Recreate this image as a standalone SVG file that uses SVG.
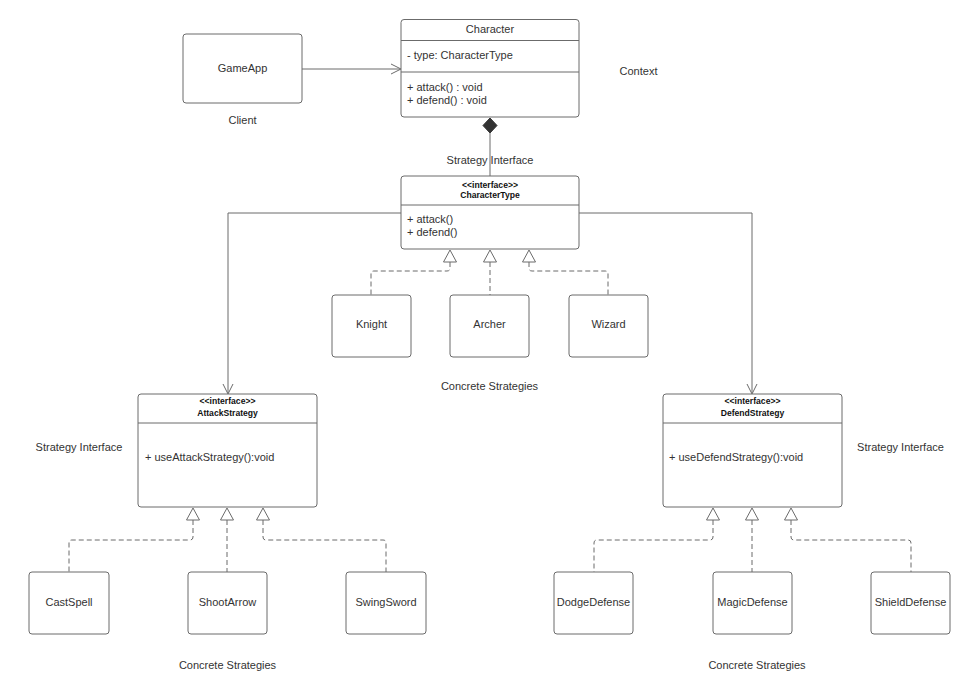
<svg xmlns="http://www.w3.org/2000/svg" width="980" height="700" viewBox="0 0 980 700">
<style>
.box{fill:#fff;stroke:#6b6b6b;stroke-width:1}
.ln{fill:none;stroke:#6b6b6b;stroke-width:1}
.dash{fill:none;stroke:#6b6b6b;stroke-width:1;stroke-dasharray:5 3}
.tri{fill:#fff;stroke:#6b6b6b;stroke-width:1}
text{font-family:"Liberation Sans",Arial,sans-serif;font-size:11px;fill:#333}
.c{text-anchor:middle}
.b{font-weight:bold;font-size:8.6px;fill:#111}
</style>
<rect width="980" height="700" fill="#fff"/>
<g id="connectors">
  <path class="ln" d="M302,69 H400"/>
  <path class="ln" d="M391,64 L401,69 L391,74"/>
  <path class="ln" d="M490,133 V176"/>
  <path d="M490,118 L497,125.5 L490,133 L483,125.5 Z" fill="#333" stroke="#333"/>
  <path class="ln" d="M401,213 H228 V393"/>
  <path class="ln" d="M223,384 L228,394 L233,384"/>
  <path class="ln" d="M579,213 H752 V393"/>
  <path class="ln" d="M747,384 L752,394 L757,384"/>
  <path class="dash" d="M450,262 V268 Q450,271 447,271 H374 Q371,271 371,274 V295"/>
  <path class="dash" d="M490,262 V295"/>
  <path class="dash" d="M529,262 V268 Q529,271 532,271 H605 Q608,271 608,274 V295"/>
  <path class="tri" d="M450,250 L456.5,262 L443.5,262 Z"/>
  <path class="tri" d="M490,250 L496.5,262 L483.5,262 Z"/>
  <path class="tri" d="M529,250 L535.5,262 L522.5,262 Z"/>
  <path class="dash" d="M193,520 V537 Q193,540 190,540 H72 Q69,540 69,543 V572"/>
  <path class="dash" d="M227,520 V572"/>
  <path class="dash" d="M263,520 V537 Q263,540 266,540 H383 Q386,540 386,543 V572"/>
  <path class="tri" d="M193,508 L199.5,520 L186.5,520 Z"/>
  <path class="tri" d="M227,508 L233.5,520 L220.5,520 Z"/>
  <path class="tri" d="M263,508 L269.5,520 L256.5,520 Z"/>
  <path class="dash" d="M713,520 V537 Q713,540 710,540 H597 Q594,540 594,543 V572"/>
  <path class="dash" d="M752,520 V572"/>
  <path class="dash" d="M791,520 V537 Q791,540 794,540 H908 Q911,540 911,543 V572"/>
  <path class="tri" d="M713,508 L719.5,520 L706.5,520 Z"/>
  <path class="tri" d="M752,508 L758.5,520 L745.5,520 Z"/>
  <path class="tri" d="M791,508 L797.5,520 L784.5,520 Z"/>
</g>
<g id="GameApp">
  <rect class="box" x="183" y="34" width="119" height="69" rx="3"/>
  <text class="c" x="242.5" y="72">GameApp</text>
</g>
<g id="Character">
  <rect class="box" x="401" y="19.5" width="178" height="97.5" rx="3"/>
  <path class="ln" d="M401,40.5 H579 M401,72 H579"/>
  <text class="c" x="490" y="33">Character</text>
  <text x="407" y="59">- type: CharacterType</text>
  <text x="407" y="91">+ attack() : void</text>
  <text x="407" y="104">+ defend() : void</text>
</g>
<g id="CharacterType">
  <rect class="box" x="401" y="176" width="178" height="73" rx="3"/>
  <path class="ln" d="M401,205 H579"/>
  <text class="c b" x="490" y="188">&lt;&lt;interface&gt;&gt;</text>
  <text class="c b" x="490" y="198">CharacterType</text>
  <text x="407" y="223">+ attack()</text>
  <text x="407" y="236">+ defend()</text>
</g>
<g id="Knight">
  <rect class="box" x="332" y="295" width="79" height="62" rx="3"/>
  <text class="c" x="371.5" y="328">Knight</text>
</g>
<g id="Archer">
  <rect class="box" x="450" y="295" width="79" height="62" rx="3"/>
  <text class="c" x="489.5" y="328">Archer</text>
</g>
<g id="Wizard">
  <rect class="box" x="569" y="295" width="79" height="62" rx="3"/>
  <text class="c" x="608.5" y="328">Wizard</text>
</g>
<g id="AttackStrategy">
  <rect class="box" x="138" y="394" width="179" height="113" rx="3"/>
  <path class="ln" d="M138,423 H317"/>
  <text class="c b" x="227.5" y="404">&lt;&lt;interface&gt;&gt;</text>
  <text class="c b" x="227.5" y="416">AttackStrategy</text>
  <text x="145" y="461">+ useAttackStrategy():void</text>
</g>
<g id="DefendStrategy">
  <rect class="box" x="663" y="394" width="179" height="113" rx="3"/>
  <path class="ln" d="M663,423 H842"/>
  <text class="c b" x="752.5" y="404">&lt;&lt;interface&gt;&gt;</text>
  <text class="c b" x="752.5" y="416">DefendStrategy</text>
  <text x="669" y="461">+ useDefendStrategy():void</text>
</g>
<g id="CastSpell">
  <rect class="box" x="29" y="572" width="80" height="62" rx="3"/>
  <text class="c" x="69" y="606">CastSpell</text>
</g>
<g id="ShootArrow">
  <rect class="box" x="188" y="572" width="79" height="62" rx="3"/>
  <text class="c" x="227.5" y="606">ShootArrow</text>
</g>
<g id="SwingSword">
  <rect class="box" x="346" y="572" width="80" height="62" rx="3"/>
  <text class="c" x="386" y="606">SwingSword</text>
</g>
<g id="DodgeDefense">
  <rect class="box" x="554" y="572" width="79" height="62" rx="3"/>
  <text class="c" x="593.5" y="606">DodgeDefense</text>
</g>
<g id="MagicDefense">
  <rect class="box" x="713" y="572" width="79" height="62" rx="3"/>
  <text class="c" x="752.5" y="606">MagicDefense</text>
</g>
<g id="ShieldDefense">
  <rect class="box" x="871" y="572" width="79" height="62" rx="3"/>
  <text class="c" x="910.5" y="606">ShieldDefense</text>
</g>
<g id="labels">
  <text class="c" x="242.5" y="124">Client</text>
  <text class="c" x="638.5" y="75">Context</text>
  <text class="c" x="490" y="164">Strategy Interface</text>
  <text class="c" x="489.5" y="390">Concrete Strategies</text>
  <text class="c" x="79" y="451">Strategy Interface</text>
  <text class="c" x="900.5" y="451">Strategy Interface</text>
  <text class="c" x="227.5" y="669">Concrete Strategies</text>
  <text class="c" x="757" y="669">Concrete Strategies</text>
</g>
</svg>
